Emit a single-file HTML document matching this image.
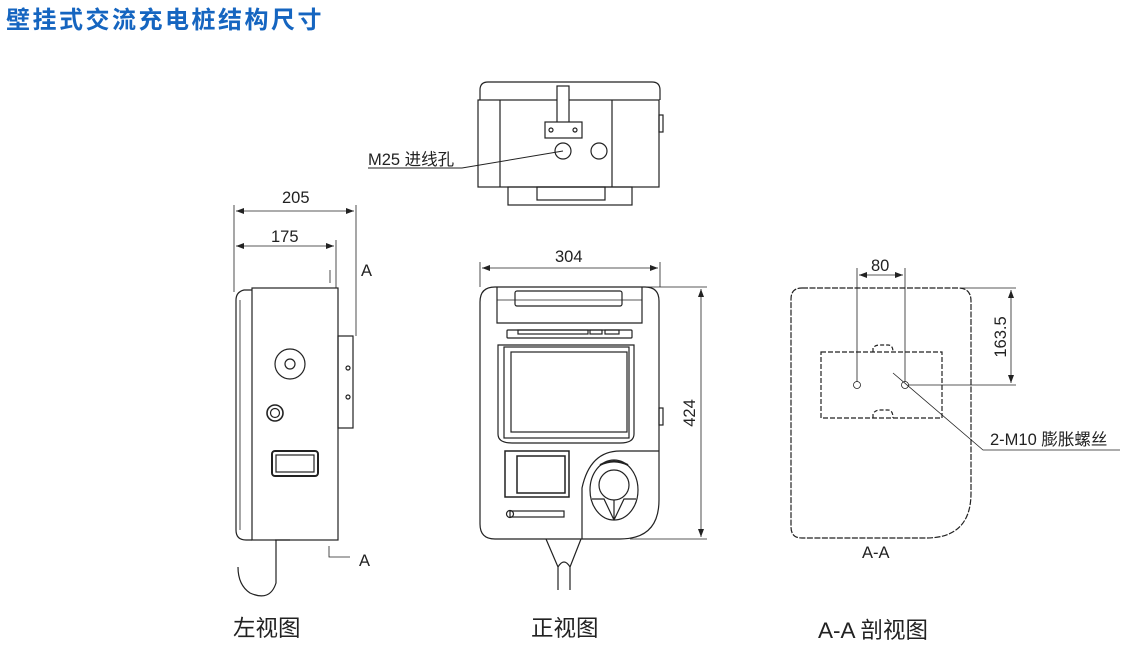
<!DOCTYPE html>
<html><head><meta charset="utf-8"><style>
html,body{margin:0;padding:0;background:#fff;}
svg{display:block}
text{font-family:"Liberation Sans","Noto Sans CJK SC",sans-serif;fill:#222}
</style></head><body>
<svg width="1125" height="647" viewBox="0 0 1125 647" xmlns="http://www.w3.org/2000/svg">
<defs>
<marker id="ar" markerWidth="8" markerHeight="6" refX="8" refY="3" orient="auto-start-reverse" markerUnits="userSpaceOnUse"><path d="M0,0 L8,3 L0,6 z" fill="#222"/></marker>
</defs>
<text x="6" y="28" font-size="24" font-weight="bold" style="fill:#1565c0" letter-spacing="2.5">壁挂式交流充电桩结构尺寸</text>

<g fill="none" stroke="#222" stroke-width="1.2">
<!-- TOP VIEW -->
<path d="M480,100 L480,90 Q480,82 488,82 L652,82 Q660,82 660,90 L660,100"/>
<rect x="478" y="100" width="181" height="87"/>
<line x1="500" y1="100" x2="500" y2="187"/>
<line x1="612" y1="100" x2="612" y2="187"/>
<rect x="557" y="86" width="12" height="38" fill="#fff"/>
<rect x="545" y="122" width="37" height="16" fill="#fff"/>
<circle cx="551" cy="130" r="2"/><circle cx="575" cy="130" r="2"/>
<circle cx="563" cy="151" r="8"/><circle cx="599" cy="151" r="8"/>
<rect x="659" y="115" width="4" height="17"/>
<rect x="508" y="187" width="124" height="18"/>
<rect x="537" y="187" width="68" height="13"/>
<path d="M563,151 L462,168 L368,168" stroke-width="1"/>

<!-- LEFT VIEW -->
<path d="M252,290 L244,290 Q236,292 236,300 L236,530 Q236,540 246,540 L252,540"/>
<line x1="240" y1="300" x2="240" y2="530" stroke-width="0.8"/>
<rect x="252" y="288" width="86" height="252"/>
<rect x="338" y="336" width="15" height="92"/>
<circle cx="348" cy="368" r="2"/><circle cx="348" cy="397" r="2"/>
<circle cx="290" cy="364" r="15"/><circle cx="290" cy="364" r="5"/>
<circle cx="275" cy="413" r="8" stroke-width="1.6"/><circle cx="275" cy="413" r="4.5"/>
<rect x="272" y="451" width="46" height="25" rx="3" stroke-width="2"/>
<rect x="276" y="455" width="38" height="17"/>
<path d="M275,540 L290,540 M276,540 L276,583 Q270,602 250,593 Q238,585 238,567"/>
<g stroke-width="0.8">
<line x1="234" y1="205" x2="234" y2="292"/>
<line x1="356" y1="205" x2="356" y2="336"/>
<line x1="336" y1="240" x2="336" y2="288"/>
<line x1="236" y1="211" x2="354" y2="211" marker-start="url(#ar)" marker-end="url(#ar)"/>
<line x1="236" y1="246" x2="334" y2="246" marker-start="url(#ar)" marker-end="url(#ar)"/>
<line x1="330" y1="270" x2="330" y2="283"/>
<path d="M329,546 L329,557 L350,557"/>
</g>

<!-- FRONT VIEW -->
<path d="M495,287 L645,287 Q659,287 659,301 L659,500 Q659,539 620,539 L495,539 Q480,539 480,524 L480,302 Q480,287 495,287 Z"/>
<path d="M497,287 L497,323 L642,323 L642,287"/>
<line x1="497" y1="300" x2="642" y2="300" stroke-width="0.8"/>
<rect x="515" y="291" width="107" height="15" rx="2"/>
<rect x="507" y="330" width="125" height="8" rx="1"/>
<rect x="518" y="330" width="70" height="4"/><rect x="590" y="330" width="12" height="4"/><rect x="605" y="330" width="14" height="4"/>
<path d="M498,345 L634,345 L634,434 Q634,443 620,443 L512,443 Q498,443 498,434 Z"/>
<rect x="504" y="347" width="125" height="91"/>
<rect x="511" y="352" width="116" height="80"/>
<rect x="505" y="451" width="64" height="46" stroke-width="1.5"/>
<rect x="517" y="456" width="48" height="37" stroke-width="1.5"/>
<rect x="510" y="511" width="54" height="6"/><circle cx="510" cy="514" r="3.5"/>
<path d="M582,539 L582,488 Q590,451 620,451 L659,451"/>
<ellipse cx="614" cy="490" rx="24" ry="30"/>
<circle cx="614" cy="485" r="15"/>
<path d="M592,499 L604,499 L614,520 M636,499 L624,499 L614,520 M614,500 L614,520"/>
<path d="M600,465 Q614,458 628,465" stroke-width="2"/>
<rect x="659" y="408" width="4" height="17"/>
<path d="M546,539 L558,567 L558,590 M581,539 L570,567 L570,590 M558,567 Q564,557 570,567"/>
<g stroke-width="0.8">
<line x1="480" y1="262" x2="480" y2="287"/><line x1="660" y1="262" x2="660" y2="287"/>
<line x1="482" y1="268" x2="658" y2="268" marker-start="url(#ar)" marker-end="url(#ar)"/>
<line x1="645" y1="287" x2="707" y2="287"/><line x1="630" y1="539" x2="707" y2="539"/>
<line x1="701" y1="289" x2="701" y2="537" marker-start="url(#ar)" marker-end="url(#ar)"/>
</g>

<!-- A-A VIEW -->
<path d="M802,288 L958,288 Q971,288 971,301 L971,493 Q971,538 926,538 L802,538 Q791,538 791,527 L791,299 Q791,288 802,288 Z" stroke-dasharray="6 1.5"/>
<rect x="821" y="352" width="121" height="66" stroke-dasharray="5 2"/>
<path d="M873,352 L873,348 Q875,345 880,345 L888,345 Q893,345 893,352" stroke-dasharray="4 2"/>
<path d="M873,418 L873,414 Q875,410 880,410 L888,410 Q893,410 893,418" stroke-dasharray="4 2"/>
<circle cx="857" cy="385" r="3.5" stroke-width="0.8"/><circle cx="905" cy="385" r="3.5" stroke-width="0.8"/>
<g stroke-width="0.8">
<line x1="857" y1="268" x2="857" y2="382"/><line x1="905" y1="268" x2="905" y2="382"/>
<line x1="859" y1="275" x2="903" y2="275" marker-start="url(#ar)" marker-end="url(#ar)"/>
<line x1="960" y1="288" x2="1016" y2="288"/><line x1="908" y1="385" x2="1016" y2="385"/>
<line x1="1011" y1="290" x2="1011" y2="383" marker-start="url(#ar)" marker-end="url(#ar)"/>
<path d="M893,373 L983,450 L1120,450"/>
</g>
</g>

<g font-size="16.5">
<text x="368" y="165">M25 进线孔</text>
<text x="282" y="203">205</text>
<text x="271" y="242">175</text>
<text x="361" y="276">A</text>
<text x="359" y="566">A</text>
<text x="555" y="262">304</text>
<text x="871" y="271">80</text>
<text x="990" y="445">2-M10 膨胀螺丝</text>
<text x="862" y="558">A-A</text>
<text transform="translate(695,413) rotate(-90)" text-anchor="middle">424</text>
<text transform="translate(1006,337) rotate(-90)" text-anchor="middle">163.5</text>
</g>
<g font-size="22.5">
<text x="233" y="636">左视图</text>
<text x="531" y="636">正视图</text>
<text x="818" y="638">A-A 剖视图</text>
</g>
</svg>
</body></html>
